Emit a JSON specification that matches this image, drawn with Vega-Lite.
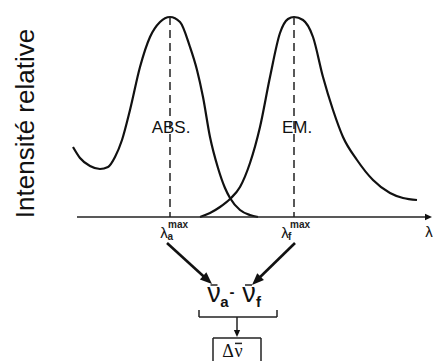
{
  "$schema": "https://vega.github.io/schema/vega-lite/v6.json",
  "width": 433,
  "height": 361,
  "padding": 0,
  "autosize": {"type": "none"},
  "background": "white",
  "config": {"view": {"stroke": null}, "text": {"font": "Liberation Sans", "color": "#111"}},
  "datasets": {
    "curves": [
      {"series": "ABS", "x": 73, "y": 0.35},
      {"series": "ABS", "x": 80, "y": 0.295},
      {"series": "ABS", "x": 90, "y": 0.255},
      {"series": "ABS", "x": 100, "y": 0.24},
      {"series": "ABS", "x": 108, "y": 0.25},
      {"series": "ABS", "x": 115, "y": 0.3},
      {"series": "ABS", "x": 122, "y": 0.385},
      {"series": "ABS", "x": 130, "y": 0.535},
      {"series": "ABS", "x": 140, "y": 0.75},
      {"series": "ABS", "x": 150, "y": 0.9},
      {"series": "ABS", "x": 160, "y": 0.975},
      {"series": "ABS", "x": 170, "y": 1.0},
      {"series": "ABS", "x": 180, "y": 0.975},
      {"series": "ABS", "x": 190, "y": 0.85},
      {"series": "ABS", "x": 197, "y": 0.735},
      {"series": "ABS", "x": 203, "y": 0.6},
      {"series": "ABS", "x": 210, "y": 0.4},
      {"series": "ABS", "x": 218, "y": 0.245},
      {"series": "ABS", "x": 225, "y": 0.145},
      {"series": "ABS", "x": 230, "y": 0.095},
      {"series": "ABS", "x": 240, "y": 0.035},
      {"series": "ABS", "x": 250, "y": 0.01},
      {"series": "ABS", "x": 258, "y": 0.0},
      {"series": "EM", "x": 200, "y": 0.0},
      {"series": "EM", "x": 210, "y": 0.02},
      {"series": "EM", "x": 220, "y": 0.05},
      {"series": "EM", "x": 230, "y": 0.09},
      {"series": "EM", "x": 240, "y": 0.15},
      {"series": "EM", "x": 250, "y": 0.27},
      {"series": "EM", "x": 260, "y": 0.45},
      {"series": "EM", "x": 270, "y": 0.7},
      {"series": "EM", "x": 280, "y": 0.92},
      {"series": "EM", "x": 288, "y": 0.99},
      {"series": "EM", "x": 294, "y": 1.0},
      {"series": "EM", "x": 303, "y": 0.985},
      {"series": "EM", "x": 313, "y": 0.9},
      {"series": "EM", "x": 323, "y": 0.7},
      {"series": "EM", "x": 333, "y": 0.535},
      {"series": "EM", "x": 343, "y": 0.4},
      {"series": "EM", "x": 357, "y": 0.285},
      {"series": "EM", "x": 373, "y": 0.185},
      {"series": "EM", "x": 390, "y": 0.12},
      {"series": "EM", "x": 403, "y": 0.095},
      {"series": "EM", "x": 417, "y": 0.085}
    ],
    "segments": [
      {"kind": "dash", "x": 170, "y": 1.0, "x2": 170, "y2": 0},
      {"kind": "dash", "x": 294, "y": 1.0, "x2": 294, "y2": 0},
      {"kind": "thin", "x": 77, "y": 0, "x2": 426, "y2": 0},
      {"kind": "thin", "x": 199, "y": -0.5, "x2": 277, "y2": -0.5},
      {"kind": "thin", "x": 199, "y": -0.465, "x2": 199, "y2": -0.5},
      {"kind": "thin", "x": 277, "y": -0.465, "x2": 277, "y2": -0.5},
      {"kind": "thin", "x": 237, "y": -0.5, "x2": 237, "y2": -0.57},
      {"kind": "thin", "x": 213, "y": -0.605, "x2": 213, "y2": -0.72},
      {"kind": "thin", "x": 261, "y": -0.605, "x2": 261, "y2": -0.72},
      {"kind": "thin", "x": 213, "y": -0.605, "x2": 261, "y2": -0.605},
      {"kind": "thin", "x": 210.5, "y": -0.34, "x2": 217.5, "y2": -0.34},
      {"kind": "thin", "x": 245, "y": -0.34, "x2": 252, "y2": -0.34},
      {"kind": "thin", "x": 235, "y": -0.632, "x2": 242, "y2": -0.632}
    ],
    "thick": [
      {"x": 167, "y": -0.13, "x2": 207.6, "y2": -0.315},
      {"x": 295, "y": -0.13, "x2": 256.3, "y2": -0.319}
    ],
    "heads": [
      {"kind": "a", "x": 212, "y": -0.335},
      {"kind": "f", "x": 252, "y": -0.34},
      {"kind": "down", "x": 237, "y": -0.6},
      {"kind": "axis", "x": 432, "y": 0}
    ],
    "labels": [
      {"kind": "title", "text": "Intensité relative", "x": 34, "y": 0.4675},
      {"kind": "band", "text": "ABS.", "x": 171, "y": 0.445},
      {"kind": "band", "text": "EM.", "x": 297, "y": 0.445},
      {"kind": "lambda", "text": "λ", "x": 164, "y": -0.105},
      {"kind": "lambda", "text": "λ", "x": 285, "y": -0.105},
      {"kind": "lambda", "text": "λ", "x": 429, "y": -0.1},
      {"kind": "small", "text": "max", "x": 168, "y": -0.055},
      {"kind": "small", "text": "max", "x": 290, "y": -0.055},
      {"kind": "small", "text": "a", "x": 167.5, "y": -0.115},
      {"kind": "small", "text": "f", "x": 288, "y": -0.115},
      {"kind": "nu", "text": "ν", "x": 214, "y": -0.425},
      {"kind": "nu", "text": "ν", "x": 249, "y": -0.425},
      {"kind": "sub", "text": "a", "x": 224.5, "y": -0.45},
      {"kind": "sub", "text": "-", "x": 232, "y": -0.4},
      {"kind": "sub", "text": "f", "x": 258.5, "y": -0.45},
      {"kind": "box", "text": "Δ", "x": 228, "y": -0.7},
      {"kind": "box", "text": "ν", "x": 238.5, "y": -0.7}
    ]
  },
  "encoding": {
    "x": {"field": "x", "type": "quantitative", "scale": {"domain": [0, 433], "nice": false, "zero": false}, "axis": null},
    "y": {"field": "y", "type": "quantitative", "scale": {"domain": [-0.72, 1.085], "nice": false, "zero": false}, "axis": null}
  },
  "layer": [
    {
      "data": {"name": "curves"},
      "mark": {"type": "line", "interpolate": "monotone", "color": "#111", "strokeWidth": 2.2},
      "encoding": {"detail": {"field": "series"}}
    },
    {
      "data": {"name": "segments"},
      "transform": [{"filter": "datum.kind === 'dash'"}],
      "mark": {"type": "rule", "color": "#222", "strokeWidth": 1.5, "strokeDash": [8, 5]},
      "encoding": {"x2": {"field": "x2"}, "y2": {"field": "y2"}}
    },
    {
      "data": {"name": "segments"},
      "transform": [{"filter": "datum.kind === 'thin'"}],
      "mark": {"type": "rule", "color": "#222", "strokeWidth": 1.5},
      "encoding": {"x2": {"field": "x2"}, "y2": {"field": "y2"}}
    },
    {
      "data": {"name": "thick"},
      "mark": {"type": "rule", "color": "#111", "strokeWidth": 2.6},
      "encoding": {"x2": {"field": "x2"}, "y2": {"field": "y2"}}
    },
    {
      "data": {"name": "heads"},
      "transform": [{"filter": "datum.kind === 'a'"}],
      "mark": {"type": "point", "shape": "M0,0L0.4,1L-0.4,1Z", "filled": true, "size": 576, "angle": 132.3, "color": "#111", "opacity": 1, "strokeWidth": 0}
    },
    {
      "data": {"name": "heads"},
      "transform": [{"filter": "datum.kind === 'f'"}],
      "mark": {"type": "point", "shape": "M0,0L0.4,1L-0.4,1Z", "filled": true, "size": 576, "angle": 225.7, "color": "#111", "opacity": 1, "strokeWidth": 0}
    },
    {
      "data": {"name": "heads"},
      "transform": [{"filter": "datum.kind === 'down'"}],
      "mark": {"type": "point", "shape": "M0,0L0.45,1L-0.45,1Z", "filled": true, "size": 196, "angle": 180, "color": "#111", "opacity": 1, "strokeWidth": 0}
    },
    {
      "data": {"name": "heads"},
      "transform": [{"filter": "datum.kind === 'axis'"}],
      "mark": {"type": "point", "shape": "M0,0L0.45,1L-0.45,1Z", "filled": true, "size": 196, "angle": 90, "color": "#111", "opacity": 1, "strokeWidth": 0}
    },
    {
      "data": {"name": "labels"},
      "transform": [{"filter": "datum.kind === 'title'"}],
      "mark": {"type": "text", "angle": 270, "fontSize": 26, "align": "center", "baseline": "alphabetic", "color": "#111"},
      "encoding": {"text": {"field": "text"}}
    },
    {
      "data": {"name": "labels"},
      "transform": [{"filter": "datum.kind === 'band'"}],
      "mark": {"type": "text", "fontSize": 17, "align": "center", "baseline": "middle", "color": "#111"},
      "encoding": {"text": {"field": "text"}}
    },
    {
      "data": {"name": "labels"},
      "transform": [{"filter": "datum.kind === 'lambda'"}],
      "mark": {"type": "text", "fontSize": 15, "align": "center", "baseline": "alphabetic", "color": "#111"},
      "encoding": {"text": {"field": "text"}}
    },
    {
      "data": {"name": "labels"},
      "transform": [{"filter": "datum.kind === 'small'"}],
      "mark": {"type": "text", "fontSize": 10, "fontWeight": "bold", "align": "left", "baseline": "alphabetic", "color": "#222"},
      "encoding": {"text": {"field": "text"}}
    },
    {
      "data": {"name": "labels"},
      "transform": [{"filter": "datum.kind === 'nu'"}],
      "mark": {"type": "text", "fontSize": 27, "align": "center", "baseline": "alphabetic", "color": "#111"},
      "encoding": {"text": {"field": "text"}}
    },
    {
      "data": {"name": "labels"},
      "transform": [{"filter": "datum.kind === 'sub'"}],
      "mark": {"type": "text", "fontSize": 15, "fontWeight": "bold", "align": "center", "baseline": "alphabetic", "color": "#111"},
      "encoding": {"text": {"field": "text"}}
    },
    {
      "data": {"name": "labels"},
      "transform": [{"filter": "datum.kind === 'box'"}],
      "mark": {"type": "text", "font": "Liberation Serif", "fontSize": 18, "align": "center", "baseline": "alphabetic", "color": "#111"},
      "encoding": {"text": {"field": "text"}}
    }
  ]
}
